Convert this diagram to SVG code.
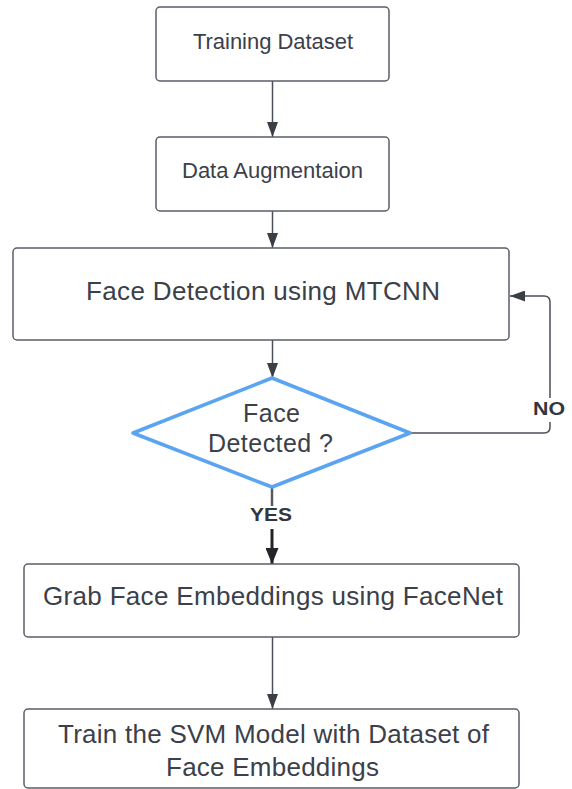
<svg xmlns="http://www.w3.org/2000/svg" width="572" height="789" viewBox="0 0 572 789">
  <style>
    .box { fill: #ffffff; stroke: #5a5e66; stroke-width: 1.5; }
    .dia { fill: #ffffff; stroke: #5ba4f2; stroke-width: 3.5; stroke-linejoin: round; }
    .t { font-family: "Liberation Sans", Arial, sans-serif; fill: #3b4049; text-anchor: middle; }
    .lbl { font-family: "Liberation Sans", Arial, sans-serif; font-weight: bold; fill: #33373d; text-anchor: middle; }
    .conn { fill: none; stroke: #4a4e56; stroke-width: 1.5; }
  </style>
  <defs>
    <marker id="arr" markerUnits="userSpaceOnUse" markerWidth="15" markerHeight="11" refX="15" refY="5.5" orient="auto">
      <path d="M0,0 L15,5.5 L0,11 z" fill="#3a3f47"/>
    </marker>
    <marker id="arrBold" markerUnits="userSpaceOnUse" markerWidth="16" markerHeight="13" refX="16" refY="6.5" orient="auto">
      <path d="M0,0 L16,6.5 L0,13 z" fill="#222428"/>
    </marker>
  </defs>
  <rect width="572" height="789" fill="#ffffff"/>

  <g id="connectors">
    <line class="conn" x1="272.5" y1="81" x2="272.5" y2="137" marker-end="url(#arr)"/>
    <line class="conn" x1="272.5" y1="211" x2="272.5" y2="248" marker-end="url(#arr)"/>
    <line class="conn" x1="272.5" y1="340" x2="272.5" y2="378" marker-end="url(#arr)"/>
    <path class="conn" d="M410,433 H544 Q550,433 550,427 V302 Q550,296 544,296 H510" marker-end="url(#arr)"/>
    <line x1="272" y1="487" x2="272" y2="506" stroke="#555960" stroke-width="2.5"/>
    <line x1="272" y1="529" x2="272" y2="564" stroke="#222428" stroke-width="3" marker-end="url(#arrBold)"/>
    <line class="conn" x1="272.5" y1="637" x2="272.5" y2="709" marker-end="url(#arr)"/>
    <rect x="530" y="398" width="38" height="24" fill="#ffffff"/>
    <text class="lbl" x="549" y="415" font-size="19" textLength="32" lengthAdjust="spacingAndGlyphs">NO</text>
    <text class="lbl" x="271" y="521" font-size="19" textLength="42" lengthAdjust="spacingAndGlyphs">YES</text>
  </g>

  <g id="training-dataset">
    <rect class="box" x="156" y="7" width="233" height="74" rx="4"/>
    <text class="t" x="273" y="49" font-size="22" textLength="160">Training Dataset</text>
  </g>

  <g id="data-augmentation">
    <rect class="box" x="156" y="137" width="233" height="74" rx="4"/>
    <text class="t" x="272.5" y="178" font-size="22" textLength="181">Data Augmentaion</text>
  </g>

  <g id="face-detection">
    <rect class="box" x="13" y="248" width="496" height="92" rx="4"/>
    <text class="t" x="263" y="300" font-size="26" textLength="354">Face Detection using MTCNN</text>
  </g>

  <g id="face-detected">
    <polygon class="dia" points="272,378 410,433 272,487 133,433"/>
    <text class="t" x="271.5" y="422" font-size="25" textLength="57">Face</text>
    <text class="t" x="270.5" y="452" font-size="25" textLength="125">Detected ?</text>
  </g>

  <g id="grab-embeddings">
    <rect class="box" x="24" y="564" width="495" height="73" rx="4"/>
    <text class="t" x="273" y="605" font-size="26" textLength="460">Grab Face Embeddings using FaceNet</text>
  </g>

  <g id="train-svm">
    <rect class="box" x="24" y="709" width="495" height="79" rx="4"/>
    <text class="t" x="273.5" y="743" font-size="26" textLength="431">Train the SVM Model with Dataset of</text>
    <text class="t" x="272.5" y="776" font-size="26" textLength="213">Face Embeddings</text>
  </g>
</svg>
